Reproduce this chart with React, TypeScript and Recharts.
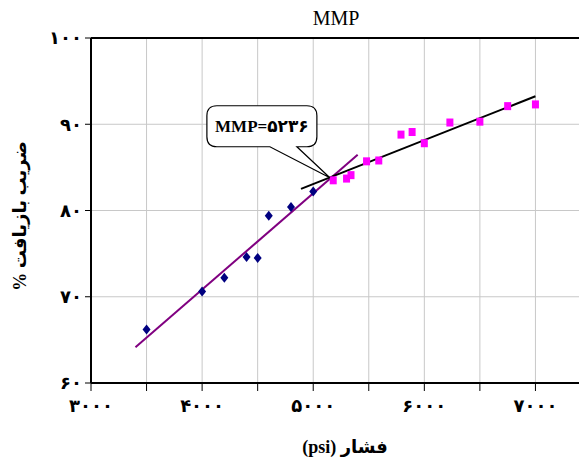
import React from 'react';
import {
  ScatterChart, Scatter, XAxis, YAxis, CartesianGrid, ReferenceLine, ReferenceDot,
} from 'recharts';

const blueX = [3500, 4000, 4200, 4400, 4500, 4600, 4800, 5000];
const blueY = [66.2, 70.6, 72.2, 74.6, 74.5, 79.4, 80.4, 82.2];
const pinkX = [5180, 5300, 5340, 5480, 5590, 5790, 5890, 6000, 6230, 6500, 6750, 7000];
const pinkY = [83.5, 83.7, 84.1, 85.7, 85.8, 88.8, 89.1, 87.8, 90.2, 90.3, 92.1, 92.3];
const purpleLineX = [3400, 5400];
const purpleLineY = [64.15, 86.45];
const blackLineX = [4890, 7000];
const blackLineY = [82.5, 93.25];
const xTicks = [3000, 3500, 4000, 4500, 5000, 5500, 6000, 6500, 7000, 7500];
const yTicks = [60, 70, 80, 90, 100];
const mmpPoint = { x: 5150, y: 83.8 };
const mmpLabel = 'MMP=۵۲۳۶';
const titleText = 'MMP';
const xLabel = 'فشار (psi)';
const yLabel = 'ضریب بازیافت %';

const blueData = blueX.map((x, i) => ({ x, y: blueY[i] }));
const pinkData = pinkX.map((x, i) => ({ x, y: pinkY[i] }));

const toPersian = (n: number) =>
  String(n).replace(/[0-9]/g, (d) => String.fromCharCode(0x06f0 + Number(d)));

const FONT = "'Liberation Serif', 'Times New Roman', 'DejaVu Sans', serif";

const Diamond = (p: any) => {
  const { cx, cy } = p;
  return <polygon points={`${cx},${cy - 5} ${cx + 4},${cy} ${cx},${cy + 5} ${cx - 4},${cy}`} fill="#000080" />;
};
const Square = (p: any) => {
  const { cx, cy } = p;
  return <rect x={cx - 3.5} y={cy - 4} width={7} height={8} fill="#FF00FF" />;
};

const Callout = (p: any) => {
  const { cx, cy } = p;
  if (cx == null || cy == null) return null;
  const l = cx - 123, r = cx - 13, t = cy - 72, b = cy - 31, rr = 10;
  const p1 = cx - 60, p2 = cx - 33;
  const d = `M ${l + rr} ${t} L ${r - rr} ${t} Q ${r} ${t} ${r} ${t + rr} L ${r} ${b - rr} Q ${r} ${b} ${r - rr} ${b}
    L ${p2} ${b} L ${cx} ${cy} L ${p1} ${b} L ${l + rr} ${b} Q ${l} ${b} ${l} ${b - rr} L ${l} ${t + rr} Q ${l} ${t} ${l + rr} ${t} Z`;
  return (
    <g>
      <path d={d} fill="#fff" stroke="#000" strokeWidth={1.2} />
      <text x={(l + r) / 2} y={(t + b) / 2 + 6} textAnchor="middle" fontFamily={FONT} fontWeight="bold" fontSize={17} fill="#000">
        {mmpLabel}
      </text>
    </g>
  );
};

export default function App() {
  return (
    <div style={{ position: 'relative', width: 579, height: 455, overflow: 'hidden' }}>
      <ScatterChart width={600} height={455} margin={{ top: 30, right: 17, bottom: 50, left: 33 }}>
        <CartesianGrid stroke="#c8c8c8" strokeWidth={1} />
        <XAxis
          type="number"
          dataKey="x"
          domain={[3000, 7500]}
          ticks={xTicks}
          interval={0}
          tickFormatter={(v: number) => (v % 1000 === 0 ? toPersian(v) : '')}
          axisLine={{ stroke: '#000', strokeWidth: 2 }}
          tickLine={{ stroke: '#000', strokeWidth: 1 }}
          tickSize={8}
          tickMargin={8}
          height={30}
          tick={{ fill: '#000', fontFamily: FONT, fontWeight: 'bold', fontSize: 18 }}
          allowDataOverflow
        />
        <YAxis
          type="number"
          dataKey="y"
          domain={[60, 100]}
          ticks={yTicks}
          interval={0}
          tickFormatter={(v: number) => toPersian(v)}
          axisLine={{ stroke: '#000', strokeWidth: 2 }}
          tickLine={{ stroke: '#000', strokeWidth: 1 }}
          tickSize={6}
          tickMargin={3}
          width={50}
          tick={{ fill: '#000', fontFamily: FONT, fontWeight: 'bold', fontSize: 18 }}
        />
        <ReferenceLine y={100} stroke="#000" strokeWidth={2} />
        <Scatter data={blueData} fill="#000080" shape={Diamond} isAnimationActive={false} />
        <Scatter data={pinkData} fill="#FF00FF" shape={Square} isAnimationActive={false} />
        <ReferenceLine
          segment={[{ x: purpleLineX[0], y: purpleLineY[0] }, { x: purpleLineX[1], y: purpleLineY[1] }]}
          stroke="#800080"
          strokeWidth={2}
        />
        <ReferenceLine
          segment={[{ x: blackLineX[0], y: blackLineY[0] }, { x: blackLineX[1], y: blackLineY[1] }]}
          stroke="#000"
          strokeWidth={2}
        />
        <ReferenceDot x={mmpPoint.x} y={mmpPoint.y} shape={Callout} />
      </ScatterChart>
      <div style={{ position: 'absolute', left: 278, width: 100, top: 0, textAlign: 'center', fontFamily: FONT, fontSize: 20, lineHeight: '20px' }}>
        {titleText}
      </div>
      <div style={{ position: 'absolute', left: 237, width: 200, top: 429, textAlign: 'center', direction: 'rtl', fontFamily: FONT, fontWeight: 'bold', fontSize: 18, lineHeight: '20px' }}>
        {xLabel}
      </div>
      <div style={{ position: 'absolute', left: 12, top: 208, width: 0, height: 0 }}>
        <div style={{ position: 'absolute', transform: 'translate(-50%, -50%) rotate(-90deg)', whiteSpace: 'nowrap', direction: 'rtl', fontFamily: FONT, fontWeight: 'bold', fontSize: 18, lineHeight: '20px' }}>
          {yLabel}
        </div>
      </div>
    </div>
  );
}
